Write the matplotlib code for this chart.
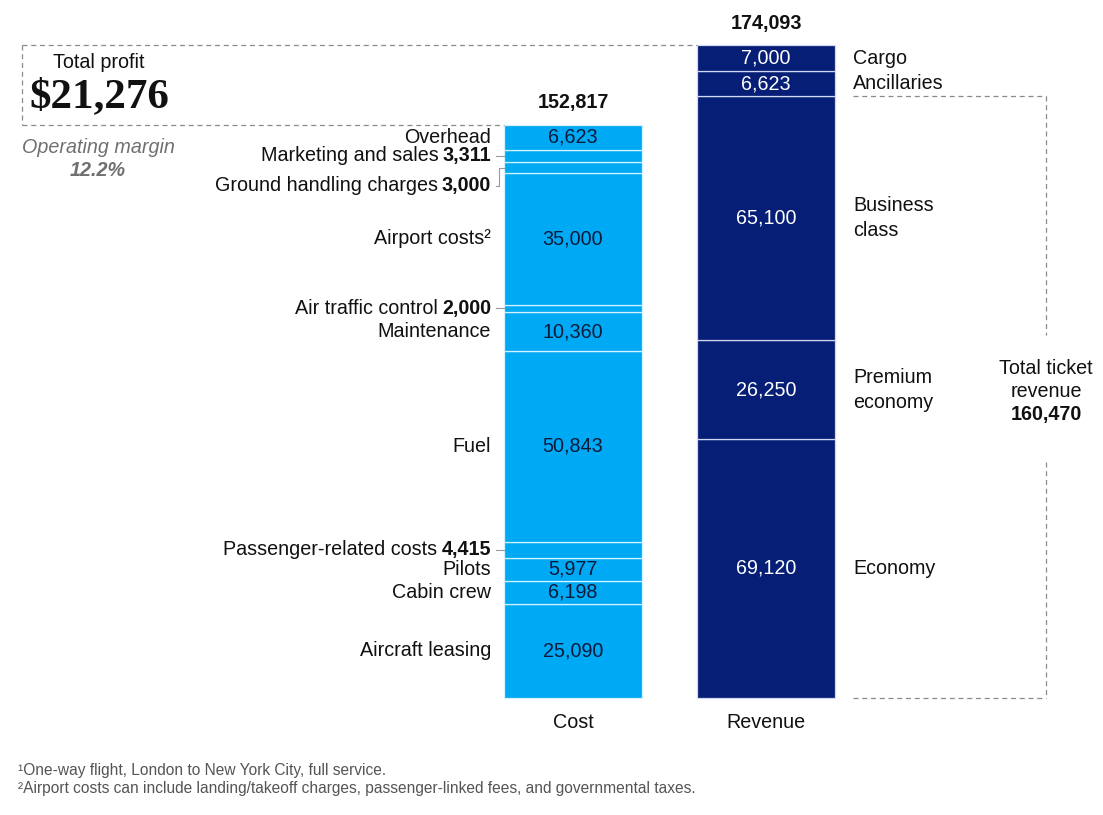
import numpy as np
import matplotlib
matplotlib.use('Agg')
import matplotlib.pyplot as plt

# ---- data (bottom to top) ----
cost_labels = ['Aircraft leasing', 'Cabin crew', 'Pilots', 'Passenger-related costs', 'Fuel',
               'Maintenance', 'Air traffic control', 'Airport costs\u00b2', 'Ground handling charges',
               'Marketing and sales', 'Overhead']
cost_values = [25090, 6198, 5977, 4415, 50843, 10360, 2000, 35000, 3000, 3311, 6623]
# small segments get the value next to the label (bold) instead of inside the bar
cost_small = [False, False, False, True, False, False, True, False, True, True, False]

rev_labels = ['Economy', 'Premium\neconomy', 'Business\nclass', 'Ancillaries', 'Cargo']
rev_values = [69120, 26250, 65100, 6623, 7000]
ticket_parts = 3  # first three revenue rows are ticket revenue

bar_names = ['Cost', 'Revenue']
footnotes = ['\u00b9One-way flight, London to New York City, full service.',
             '\u00b2Airport costs can include landing/takeoff charges, passenger-linked fees, and governmental taxes.']

cost_color = '#00A9F4'
rev_color = '#061E75'
sans = 'Liberation Sans'

W, H = 1103, 815
base_px = 698                          # pixel row of the bar bottoms
k = 653 / sum(rev_values)              # pixels per dollar


def v(ypix):
    # pixel row -> data value
    return (base_px - ypix) / k


fig = plt.figure(figsize=(W / 100, H / 100), dpi=100)
ax = fig.add_axes([0, 0, 1, 1])
ax.set_xlim(0, W)
ax.set_ylim(v(H), v(0))
ax.axis('off')

cost_x, rev_x, bw = 573, 766, 138
cost_bottoms = np.concatenate([[0], np.cumsum(cost_values)[:-1]])
rev_bottoms = np.concatenate([[0], np.cumsum(rev_values)[:-1]])
cost_total = sum(cost_values)
rev_total = sum(rev_values)
ticket_total = sum(rev_values[:ticket_parts])

ax.bar([cost_x] * len(cost_values), cost_values, bottom=cost_bottoms, width=bw,
       color=cost_color, edgecolor='#D5F2FF', linewidth=0.9)
ax.bar([rev_x] * len(rev_values), rev_values, bottom=rev_bottoms, width=bw,
       color=rev_color, edgecolor='#D0D8F2', linewidth=0.9)

fig.canvas.draw()
rend = fig.canvas.get_renderer()

fs = 14.2
lab_x = 491
for lab, val, b, small in zip(cost_labels, cost_values, cost_bottoms, cost_small):
    yc = b + val / 2
    if lab.startswith('Ground'):
        ty = yc - 18 / k
        ax.plot([496, 499, 499, 504], [ty, ty, yc, yc], color='#999999', lw=0.8)
    elif small:
        ty = yc
        ax.plot([496, 504], [yc, yc], color='#999999', lw=0.8)
    else:
        ty = yc
    if small:
        t = ax.text(lab_x, ty, f'{val:,}', ha='right', va='center', fontsize=fs,
                    fontweight='bold', family=sans, color='#111111')
        wpx = t.get_window_extent(rend).width
        ax.text(lab_x - wpx - 4, ty, lab, ha='right', va='center', fontsize=fs,
                family=sans, color='#111111')
    else:
        ax.text(lab_x, ty, lab, ha='right', va='center', fontsize=fs, family=sans, color='#111111')
        ax.text(cost_x, yc, f'{val:,}', ha='center', va='center', fontsize=fs,
                family=sans, color='#0B1A3A')

for lab, val, b in zip(rev_labels, rev_values, rev_bottoms):
    yc = b + val / 2
    ax.text(rev_x, yc, f'{val:,}', ha='center', va='center', fontsize=fs, family=sans, color='white')
    ax.text(853, yc, lab, ha='left', va='center', fontsize=fs, family=sans, color='#111111',
            linespacing=1.4)

# totals above the bars
ax.text(cost_x, cost_total + 22 / k, f'{cost_total:,}', ha='center', va='center', fontsize=fs,
        fontweight='bold', family=sans, color='#111111')
ax.text(rev_x, rev_total + 22 / k, f'{rev_total:,}', ha='center', va='center', fontsize=fs,
        fontweight='bold', family=sans, color='#111111')

# bar names
ax.text(cost_x, v(722), bar_names[0], ha='center', va='center', fontsize=fs, family=sans, color='#111111')
ax.text(rev_x, v(722), bar_names[1], ha='center', va='center', fontsize=fs, family=sans, color='#111111')

# profit box (between cost total and revenue total)
dash = dict(color='#8a8a8a', lw=0.9, ls=(0, (4, 3)))
left = 22
ax.plot([left, rev_x - bw / 2], [rev_total, rev_total], **dash)
ax.plot([left, left], [rev_total, cost_total], **dash)
ax.plot([left, cost_x - bw / 2], [cost_total, cost_total], **dash)
profit = rev_total - cost_total
ax.text(99, v(62), 'Total profit', ha='center', va='center', fontsize=fs, family=sans, color='#111111')
ax.text(29, v(97), f'${profit:,}', ha='left', va='center', fontsize=31, fontweight='bold',
        family='Liberation Serif', color='#111111')
margin = profit / rev_total * 100
ax.text(98, v(147), 'Operating margin', ha='center', va='center', fontsize=fs, style='italic',
        family=sans, color='#707070')
ax.text(98, v(170), f'{margin:.1f}%', ha='center', va='center', fontsize=fs, style='italic',
        fontweight='bold', family=sans, color='#707070')

# ticket revenue bracket
bx = 1046
ax.plot([853, bx], [ticket_total, ticket_total], **dash)
ax.plot([853, bx], [0, 0], **dash)
ax.plot([bx, bx], [ticket_total, v(335)], **dash)
ax.plot([bx, bx], [v(462), 0], **dash)
ax.text(bx, v(380), 'Total ticket\nrevenue', ha='center', va='center', fontsize=fs, family=sans,
        color='#111111', linespacing=1.3)
ax.text(bx, v(414), f'{ticket_total:,}', ha='center', va='center', fontsize=fs, fontweight='bold',
        family=sans, color='#111111')

# footnotes
for i, fn in enumerate(footnotes):
    ax.text(18, v(771 + 18 * i), fn, ha='left', va='center', fontsize=11.2, family=sans, color='#555555')

fig.savefig('out.png', dpi=100)
